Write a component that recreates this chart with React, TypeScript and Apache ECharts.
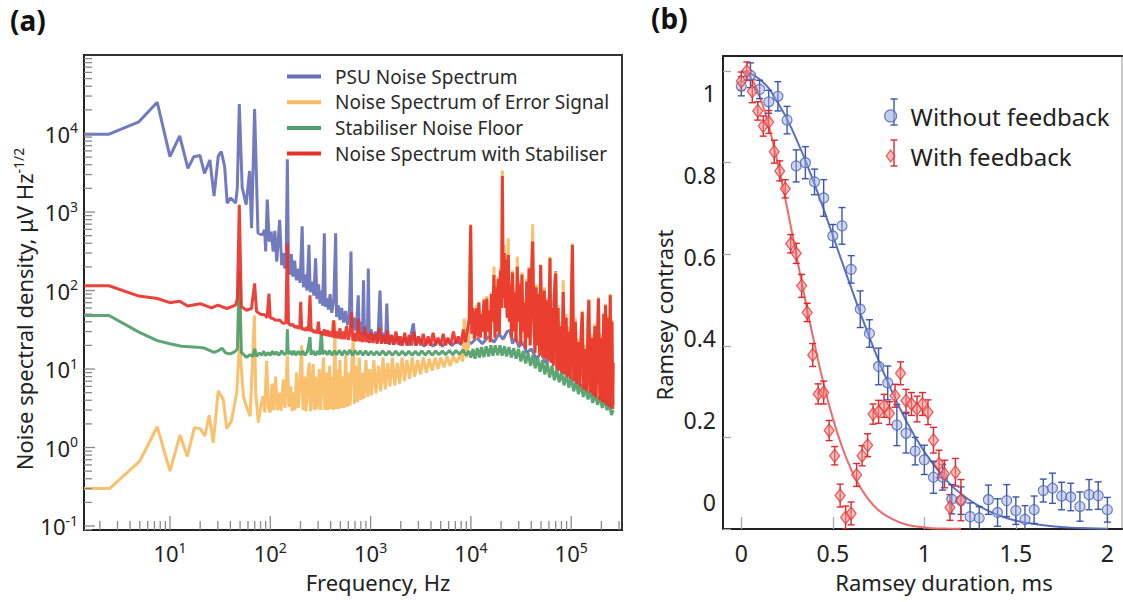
import React, { useEffect, useRef } from 'react';
import * as echarts from 'echarts';

// ---------------- Panel (a): noise spectra [frequency Hz, density µV/√Hz] ----------------
const psuNoise: number[][] = [
  [1.39, 9800], [2.47, 9800], [4.9, 14100], [7.47, 25000], [10, 5070], [12.5, 9300], [15.1, 3590], [17.3, 5070],
  [19.9, 5260], [22.1, 3100], [25, 4600], [27.5, 1590], [30.3, 5150], [32.5, 5880], [35.1, 3780], [37.2, 1300],
  [40.3, 1510], [45.2, 1300], [46.9, 2040], [49.1, 23800], [52.5, 2040], [57.5, 1240], [62.2, 3330], [65.1, 624],
  [69.8, 20500], [75.4, 537], [83.2, 512], [87.9, 590], [90, 314], [93.3, 1440], [97.7, 420], [102, 563], [107, 314],
  [111, 575], [116, 233], [124, 795], [130, 210], [135, 300], [140, 190], [144, 260], [148, 4700], [152, 175],
  [157, 160], [162, 290], [168, 150], [175, 240], [182, 135], [190, 190], [198, 125], [208, 656], [214, 110],
  [222, 160], [232, 100], [243, 382], [250, 95], [262, 130], [272, 86], [283, 257], [292, 78], [303, 120], [313, 68],
  [325, 100], [333, 64], [346, 537], [354, 62], [368, 80], [380, 57], [395, 90], [410, 52], [430, 75], [449, 537],
  [458, 46], [475, 65], [495, 42], [515, 60], [540, 39], [565, 55], [590, 36], [615, 50], [638, 314], [652, 33],
  [680, 45], [705, 31], [730, 42], [754, 87], [770, 29], [800, 40], [830, 27.5], [850, 135], [870, 27], [905, 36],
  [930, 25], [949, 191], [970, 24], [1010, 32], [1060, 23], [1120, 30], [1180, 22], [1241, 100], [1290, 22],
  [1350, 29], [1410, 21], [1450, 68], [1500, 21], [1600, 27], [1700, 20.5], [1850, 26], [2000, 20], [2200, 25],
  [2400, 20], [2670, 38], [2800, 20], [3100, 24], [3400, 19.5], [3800, 23], [4200, 19.5], [4700, 23], [5200, 19.5],
  [5800, 23], [6500, 20], [7200, 23], [8000, 20.5], [9000, 24], [10000, 21], [11500, 25], [13000, 21], [15000, 26],
  [17000, 22], [19000, 28], [21000, 24], [23000, 30], [24500, 31], [26000, 21], [28000, 26], [30000, 19], [33000, 22],
  [36000, 16], [40000, 18], [45000, 13.5], [50000, 16], [56000, 12], [62000, 14], [70000, 177], [72000, 10.5],
  [80000, 12], [90000, 9], [100000, 11], [115000, 7.5], [130000, 9], [145000, 6], [160000, 19], [168000, 5.5],
  [185000, 8], [200000, 4.6], [220000, 7], [240000, 4], [255000, 7.4], [262000, 3.5],
];

const errorSignalNoise: number[][] = [
  [1.39, 0.3], [2.5, 0.3], [5.0, 0.67], [7.47, 1.84], [10, 0.5], [12.6, 1.44], [14.9, 0.77], [17.5, 1.79], [20, 1.74],
  [22.3, 1.4], [24.6, 2.57], [27, 1.15], [30.3, 5.26], [34, 4.1], [36.8, 1.74], [41, 2.17], [46.3, 5.0], [48.8, 16.3],
  [49.5, 110], [50.5, 14], [54, 4.5], [57.5, 3.4], [63, 2.5], [66, 10], [69.4, 48], [71.5, 5], [76, 2.07], [81, 3.5],
  [85, 4.5], [88, 2.8], [92, 12.7], [96, 3.2], [100, 2.8], [104, 6.5], [108, 3.0], [113, 8], [118, 3.0], [124, 5],
  [128, 2.9], [135, 7.4], [140, 3.2], [148, 14.8], [153, 3.3], [160, 6], [165, 2.9], [170, 5.0], [176, 3.0], [183, 9],
  [190, 3.2], [197, 6], [205, 20], [212, 3.0], [220, 8], [226, 2.9], [231, 3.74], [238, 9], [245, 12], [252, 2.9],
  [260, 6], [268, 11.6], [275, 3.0], [283, 8], [292, 3.1], [300, 4.1], [308, 10], [318, 3.0], [328, 7], [340, 14],
  [350, 3.0], [362, 9], [375, 3.0], [390, 11], [402, 3.1], [415, 8], [428, 3.0], [440, 41.5], [452, 3.1], [466, 10],
  [480, 3.1], [495, 13], [510, 3.2], [528, 8], [545, 3.2], [565, 15], [585, 3.3], [605, 9], [625, 3.4], [650, 12],
  [675, 27], [690, 3.6], [715, 11], [740, 3.8], [770, 14], [800, 4.0], [830, 9], [860, 4.2], [900, 13], [940, 4.4],
  [980, 10], [1020, 4.6], [1080, 13], [1130, 4.9], [1200, 11], [1260, 5.2], [1330, 14], [1400, 5.5], [1480, 12],
  [1560, 6], [1650, 14], [1740, 6.2], [1850, 12], [1950, 6.5], [2060, 14], [2180, 7], [2300, 13], [2450, 7.5],
  [2600, 14], [2750, 8], [2950, 13], [3150, 8.5], [3350, 14], [3600, 9], [3850, 13.5], [4100, 9.5], [4400, 14],
  [4700, 10], [5000, 14], [5400, 10.5], [5800, 14.5], [6200, 11], [6700, 14.5], [7200, 12], [7800, 15], [8300, 12.5],
  [8600, 44], [9000, 14], [9500, 20], [9950, 700], [10300, 30], [10800, 50], [11100, 24], [11400, 65], [11700, 26],
  [12000, 72], [12400, 25], [12700, 55], [13100, 30], [13500, 80], [13900, 24], [14400, 85], [14800, 30], [15200, 55],
  [15600, 22], [16000, 95], [16500, 40], [17000, 200], [17400, 25], [17800, 120], [18200, 30], [18700, 150],
  [19200, 28], [19700, 200], [20200, 60], [20600, 3390], [21000, 80], [21500, 380], [22000, 60], [22500, 300],
  [23000, 45], [23600, 464], [24200, 40], [24800, 130], [25400, 25], [26000, 180], [26700, 30], [27400, 100],
  [28200, 22], [29000, 270], [29800, 40], [30600, 130], [31400, 20], [32300, 170], [33200, 30], [34100, 75],
  [35000, 18], [36000, 140], [37000, 25], [38000, 200], [39000, 20], [40200, 160], [41300, 700], [42400, 40],
  [43500, 16], [44700, 120], [46000, 20], [47300, 95], [48500, 15], [49600, 214], [51000, 30], [52500, 14],
  [54000, 110], [55500, 13.5], [57000, 80], [58500, 13], [60000, 45], [61500, 270], [63000, 12], [64700, 65],
  [66400, 11], [68200, 95], [70000, 175], [72000, 10], [74000, 65], [76000, 9.5], [78000, 40], [80500, 9],
  [83300, 135], [86000, 8.5], [89000, 50], [92000, 8], [95000, 35], [98000, 7.5], [101000, 125], [103000, 400],
  [106000, 7], [110000, 45], [114000, 6.5], [118000, 24], [122000, 6], [126000, 32], [129000, 55], [133000, 5.5],
  [138000, 20], [143000, 5.2], [147000, 42], [150000, 78], [155000, 5], [160000, 28], [166000, 4.6], [172000, 38],
  [177000, 4.3], [182000, 22], [187000, 82], [193000, 4], [199000, 28], [205000, 3.8], [211000, 52], [216000, 3.7],
  [220000, 68], [226000, 3.5], [232000, 48], [238000, 3.3], [245000, 90], [250000, 3.2], [255000, 42], [259000, 3.1],
  [262000, 12],
];

const stabiliserFloor: number[][] = [
  [1.39, 48], [2.47, 48], [4.9, 29.5], [7.47, 23], [10, 21], [13, 19.5], [18.5, 19], [22, 18.5], [27.5, 16.3], [30, 17],
  [33, 18.4], [36, 16], [40, 15.6], [44, 16.5], [47, 18], [49.1, 174], [51.5, 16.3], [55, 15], [58, 14.1], [63, 15.2],
  [67, 14.5], [70, 18], [73, 14.5], [78, 16], [82, 15], [86, 16.8], [90, 14.8], [95, 16.2], [100, 15], [105, 16.8],
  [110, 15.2], [115, 16.5], [122, 15], [130, 17], [138, 15.2], [146, 16.5], [148, 32], [151, 15.5], [158, 16.8],
  [165, 15.2], [172, 17], [180, 15], [190, 16.8], [200, 15.2], [210, 17], [222, 15], [235, 16.8], [249, 25.5],
  [255, 15.2], [268, 17], [282, 15], [296, 16.8], [310, 15.2], [324, 30], [332, 15.5], [350, 17], [370, 15.2],
  [390, 17.2], [410, 15], [435, 17], [460, 15.2], [490, 17.3], [520, 15], [550, 17.2], [585, 15.2], [620, 17.5],
  [660, 15], [700, 17.2], [745, 15.2], [790, 17], [840, 15], [890, 17], [950, 15], [1010, 16.8], [1080, 15],
  [1150, 16.8], [1230, 15], [1320, 17], [1420, 15], [1530, 16.8], [1650, 15], [1780, 16.8], [1920, 15], [2070, 16.8],
  [2230, 15], [2400, 16.8], [2600, 15], [2800, 16.8], [3000, 15], [3250, 17], [3500, 15], [3800, 17], [4100, 15],
  [4450, 17], [4800, 15.2], [5200, 17], [5600, 15.2], [6100, 17.2], [6600, 15.2], [7100, 17.2], [7700, 15.4],
  [8300, 17.5], [9000, 15], [9500, 17], [10000, 14], [10500, 18], [11000, 13.5], [11600, 18.5], [12200, 14],
  [12800, 19], [13500, 14.2], [14200, 19.5], [15000, 14.5], [15800, 20], [16600, 14.8], [17500, 20], [18500, 15],
  [19500, 20], [20500, 14.8], [21600, 19.5], [22700, 14.5], [24000, 19], [25300, 14], [26700, 18.5], [28200, 13.5],
  [29800, 18], [31500, 12.5], [33300, 17], [35200, 11.8], [37200, 16], [39300, 11], [41500, 15], [43800, 10.2],
  [46300, 14], [48900, 9.2], [51700, 13], [54600, 8.5], [57700, 12], [61000, 7.8], [64400, 11], [68000, 7.2],
  [71900, 10], [76000, 6.8], [80300, 9.2], [84800, 6.2], [89600, 8.5], [94700, 5.8], [100000, 7.8], [106000, 5.2],
  [112000, 7], [118000, 4.8], [125000, 6.5], [132000, 4.4], [139000, 5.9], [147000, 4.1], [155000, 5.4],
  [164000, 3.7], [173000, 5], [183000, 3.5], [193000, 4.5], [204000, 3.2], [216000, 4.1], [228000, 3],
  [240000, 3.7], [252000, 2.6], [262000, 3.0],
];

const stabilisedNoise: number[][] = [
  [1.39, 115], [2.47, 115], [4.9, 85], [7.47, 79], [10, 70], [12.5, 73], [15, 63.5], [20, 68], [26, 60], [30, 65],
  [37, 59], [45, 65], [47, 79], [49.1, 1240], [51.5, 62], [58, 56], [65, 59], [69.8, 123], [73, 54], [80, 50],
  [88, 49], [93, 45], [97, 91], [100, 45], [106, 44], [112, 42], [118, 41.7], [125, 42], [131, 39], [137, 38],
  [143, 39], [148, 400], [152, 38], [160, 36], [168, 37], [175, 34], [183, 35], [190, 33], [197, 34], [201, 72],
  [206, 32], [215, 33], [222, 31], [232, 34], [240, 30.5], [249, 87], [256, 30], [265, 32], [273, 29], [283, 31],
  [293, 28.5], [302, 40], [310, 28], [322, 30], [333, 27], [345, 32], [358, 26.5], [372, 31], [385, 26], [400, 30],
  [415, 25.5], [427, 41.6], [440, 25], [458, 30], [475, 24.5], [495, 33], [512, 24], [530, 30], [550, 24], [575, 35],
  [600, 23.5], [625, 30], [646, 53], [665, 23], [690, 29], [715, 22.5], [740, 31], [754, 44], [775, 22.5], [805, 29],
  [835, 22], [870, 34], [905, 22], [940, 28], [975, 21.5], [1010, 30], [1060, 21.5], [1110, 28], [1160, 21],
  [1220, 33], [1280, 21], [1340, 27], [1400, 21], [1470, 31], [1540, 20.5], [1620, 27], [1700, 20.5], [1790, 30],
  [1880, 20.5], [1980, 26], [2080, 20], [2190, 29], [2300, 20], [2430, 27], [2560, 20], [2700, 30], [2850, 20],
  [3000, 26], [3170, 20], [3350, 28], [3550, 19.8], [3750, 26], [3950, 19.8], [4200, 29], [4450, 20], [4700, 25],
  [5000, 20], [5300, 28], [5600, 20], [5900, 25], [6300, 20.5], [6700, 30], [7100, 21], [7500, 26], [8000, 21],
  [8400, 32], [8800, 22], [9200, 30], [9640, 44], [9950, 676], [10200, 28], [10500, 60], [10800, 24], [11100, 45],
  [11400, 59], [11700, 26], [12000, 70], [12400, 25], [12700, 50], [13100, 30], [13500, 75], [13900, 24], [14400, 79],
  [14800, 30], [15200, 55], [15600, 22], [16000, 90], [16500, 40], [17000, 158], [17400, 25], [17800, 110],
  [18200, 30], [18700, 140], [19200, 28], [19700, 180], [20200, 60], [20600, 2870], [21000, 80], [21500, 300],
  [22000, 60], [22500, 250], [23000, 45], [23600, 283], [24200, 40], [24800, 120], [25400, 25], [26000, 170],
  [26700, 30], [27400, 95], [28200, 22], [29000, 201], [29800, 40], [30600, 120], [31400, 20], [32300, 160],
  [33200, 30], [34100, 70], [35000, 18], [36000, 130], [37000, 25], [38000, 190], [39000, 20], [40200, 150],
  [41300, 420], [42400, 40], [43500, 16], [44700, 110], [46000, 20], [47300, 90], [48500, 15], [49600, 211],
  [51000, 30], [52500, 14], [54000, 100], [55500, 13.5], [57000, 75], [58500, 13], [60000, 40], [61500, 257],
  [63000, 12], [64700, 60], [66400, 11], [68200, 90], [70000, 165], [72000, 10], [74000, 60], [76000, 9.5],
  [78000, 35], [80500, 9], [83300, 96], [86000, 8.5], [89000, 45], [92000, 8], [95000, 30], [98000, 7.5],
  [101000, 120], [103000, 381], [106000, 7], [110000, 40], [114000, 6.5], [118000, 22], [122000, 6], [126000, 30],
  [129000, 53], [133000, 5.5], [138000, 18], [143000, 5.2], [147000, 40], [150000, 75], [155000, 5], [160000, 25],
  [166000, 4.6], [172000, 35], [177000, 4.3], [182000, 20], [187000, 79], [193000, 4], [199000, 25], [205000, 3.8],
  [211000, 50], [216000, 3.7], [220000, 65], [226000, 3.5], [232000, 45], [238000, 3.3], [245000, 87], [250000, 3.2],
  [255000, 40], [259000, 3.1], [262000, 12],
];

// ---------------- Panel (b): Ramsey contrast [duration ms, contrast, error] ----------------
const withoutFeedback: number[][] = [
  [0, 0.967, 0.021], [0.05, 0.991, 0.027], [0.1, 0.96, 0.02], [0.15, 0.933, 0.025], [0.2, 0.945, 0.032],
  [0.25, 0.893, 0.03], [0.3, 0.793, 0.035], [0.35, 0.8, 0.035], [0.4, 0.758, 0.028], [0.45, 0.723, 0.04],
  [0.5, 0.64, 0.025], [0.55, 0.662, 0.04], [0.6, 0.567, 0.03], [0.65, 0.48, 0.04], [0.7, 0.427, 0.03],
  [0.75, 0.355, 0.04], [0.8, 0.319, 0.037], [0.85, 0.227, 0.045], [0.9, 0.209, 0.043], [0.95, 0.17, 0.03],
  [1.0, 0.151, 0.032], [1.05, 0.113, 0.035], [1.1, 0.113, 0.028], [1.15, 0.065, 0.032], [1.2, 0.062, 0.03],
  [1.25, 0.027, 0.03], [1.3, 0.024, 0.025], [1.35, 0.064, 0.032], [1.4, 0.036, 0.03], [1.45, 0.062, 0.035],
  [1.5, 0.04, 0.03], [1.55, 0.021, 0.03], [1.6, 0.042, 0.03], [1.65, 0.084, 0.025], [1.7, 0.089, 0.033],
  [1.75, 0.072, 0.03], [1.8, 0.07, 0.03], [1.85, 0.049, 0.032], [1.9, 0.075, 0.033], [1.95, 0.073, 0.03],
  [2.0, 0.042, 0.027],
];

const withFeedback: number[][] = [
  [0, 0.978, 0.02], [0.03, 1.0, 0.02], [0.06, 0.956, 0.025], [0.09, 0.913, 0.02], [0.12, 0.88, 0.022],
  [0.15, 0.889, 0.025], [0.18, 0.824, 0.025], [0.21, 0.782, 0.022], [0.24, 0.743, 0.02], [0.27, 0.623, 0.02],
  [0.3, 0.602, 0.022], [0.33, 0.531, 0.025], [0.36, 0.473, 0.02], [0.39, 0.38, 0.025], [0.42, 0.295, 0.022],
  [0.45, 0.298, 0.025], [0.48, 0.215, 0.022], [0.51, 0.16, 0.02], [0.54, 0.073, 0.025], [0.57, 0.025, 0.025],
  [0.6, 0.034, 0.025], [0.63, 0.118, 0.025], [0.66, 0.16, 0.022], [0.69, 0.183, 0.025], [0.72, 0.251, 0.022],
  [0.75, 0.256, 0.025], [0.78, 0.269, 0.025], [0.81, 0.253, 0.025], [0.84, 0.291, 0.025], [0.87, 0.34, 0.025],
  [0.9, 0.28, 0.025], [0.93, 0.273, 0.025], [0.96, 0.262, 0.028], [0.99, 0.273, 0.025], [1.02, 0.255, 0.027],
  [1.05, 0.194, 0.028], [1.08, 0.142, 0.03], [1.11, 0.12, 0.03], [1.14, 0.047, 0.028], [1.17, 0.124, 0.03],
  [1.2, 0.063, 0.045],
];

const fitWithout: number[][] = [
  [0, 1], [0.1, 0.982], [0.2, 0.931], [0.3, 0.852], [0.4, 0.753], [0.5, 0.641], [0.6, 0.527], [0.7, 0.419],
  [0.8, 0.321], [0.9, 0.237], [1.0, 0.169], [1.1, 0.116], [1.2, 0.077], [1.3, 0.05], [1.4, 0.031], [1.5, 0.018],
  [1.6, 0.011], [1.7, 0.006], [1.8, 0.003], [1.9, 0.0016], [2.0, 0.0008],
];

const fitWith: number[][] = [
  [0, 1], [0.05, 0.986], [0.1, 0.945], [0.15, 0.88], [0.2, 0.797], [0.25, 0.702], [0.3, 0.6], [0.35, 0.499],
  [0.4, 0.404], [0.45, 0.317], [0.5, 0.242], [0.55, 0.18], [0.6, 0.13], [0.65, 0.091], [0.7, 0.062], [0.75, 0.041],
  [0.8, 0.027], [0.9, 0.01], [1.0, 0.0035], [1.1, 0.001], [1.2, 0.0003],
];

const contrastTickValues = [0, 0.2, 0.4, 0.6, 0.8, 1];
const durationTickValues = [0, 0.5, 1, 1.5, 2];

// axis ranges
const A_XMIN = 1.39, A_XMAX = 321000, A_YMIN = 0.089, A_YMAX = 100000;
const B_XMIN = -0.1, B_XMAX = 2.08, B_YMIN = 0, B_YMAX = 1.033;
const B_LBL_MIN = -0.066, B_LBL_MAX = 1.0905;

const FONT = 'Noto Sans';
const C_BLUE = '#6670b8', C_ORANGE = '#f9bb61', C_GREEN = '#4f9d69', C_RED = '#e8332b';

function logTickList(min: number, max: number) {
  const out: number[][] = [];
  for (let d = -2; d <= 6; d++) {
    for (let k = 1; k <= 9; k++) {
      const v = k * Math.pow(10, d);
      if (v > min * 1.001 && v < max * 0.999) out.push([v, k === 1 ? 1 : 0]);
    }
  }
  return out;
}

export default function App() {
  const ref = useRef<HTMLDivElement>(null);
  useEffect(() => {
    if (!ref.current) return;
    const chart = echarts.init(ref.current, undefined, { renderer: 'svg' });

    const xTicksA = logTickList(A_XMIN, A_XMAX).map(([v, major]) => [v, A_YMIN, major]);
    const yTicksA = logTickList(A_YMIN, A_YMAX).map(([v, major]) => [A_XMIN, v, major]);

    const powLabel = (v: number, maxExp: number) => {
      const l = Math.log10(v);
      const n = Math.round(l);
      if (Math.abs(l - n) > 1e-3 || n > maxExp) return '';
      return '{b|10}{s|' + n + '}';
    };
    const richPow = {
      b: { fontSize: 22, fontFamily: FONT, color: '#222' },
      s: { fontSize: 14, fontFamily: FONT, color: '#222', padding: [0, 0, 12, 0] },
    };

    const errRender = (color: string) => (params: any, api: any) => {
      const x = api.value(0), y = api.value(1), e = api.value(2);
      const t = api.coord([x, y + e]);
      const b = api.coord([x, y - e]);
      const hw = 3.5;
      const st = { stroke: color, lineWidth: 1.4 };
      return {
        type: 'group',
        children: [
          { type: 'line', shape: { x1: t[0], y1: t[1], x2: b[0], y2: b[1] }, style: st },
          { type: 'line', shape: { x1: t[0] - hw, y1: t[1], x2: t[0] + hw, y2: t[1] }, style: st },
          { type: 'line', shape: { x1: b[0] - hw, y1: b[1], x2: b[0] + hw, y2: b[1] }, style: st },
        ],
      };
    };

    const specLine = (name: string, data: number[][], color: string, z: number) => ({
      name, type: 'line', data, xAxisIndex: 0, yAxisIndex: 0, showSymbol: false, symbol: 'none',
      lineStyle: { color, width: 3, opacity: 0.92 }, itemStyle: { color }, z, silent: true,
    });

    const legErr = (cx: number, cy: number, color: string) => [
      { type: 'line', shape: { x1: cx, y1: cy - 13, x2: cx, y2: cy + 13 }, style: { stroke: color, lineWidth: 1.4 } },
      { type: 'line', shape: { x1: cx - 3.5, y1: cy - 13, x2: cx + 3.5, y2: cy - 13 }, style: { stroke: color, lineWidth: 1.4 } },
      { type: 'line', shape: { x1: cx - 3.5, y1: cy + 13, x2: cx + 3.5, y2: cy + 13 }, style: { stroke: color, lineWidth: 1.4 } },
    ];

    chart.setOption({
      animation: false,
      backgroundColor: '#ffffff',
      textStyle: { fontFamily: FONT },
      grid: [
        { left: 84, top: 55, width: 538, height: 475, show: true, borderColor: '#333', borderWidth: 2, outerBoundsMode: 'none', containLabel: false },
        { left: 723, top: 56, width: 399, height: 473, show: true, borderColor: '#c8c8c8', borderWidth: 2, outerBoundsMode: 'none', containLabel: false },
      ],
      xAxis: [
        {
          type: 'log', logBase: 10, gridIndex: 0, min: A_XMIN, max: A_XMAX, position: 'bottom',
          axisLine: { show: true, lineStyle: { color: '#222', width: 2 } },
          axisTick: { show: false }, splitLine: { show: false }, minorTick: { show: false },
          axisLabel: { margin: 10, formatter: (v: number) => powLabel(v, 9), rich: richPow },
        },
        {
          type: 'value', gridIndex: 1, min: B_XMIN, max: B_XMAX, position: 'bottom',
          axisLine: { show: true, onZero: false, lineStyle: { color: '#222', width: 2 } },
          axisTick: { show: true, inside: true, length: 12, customValues: durationTickValues, lineStyle: { color: '#aaa', width: 1.3 } },
          splitLine: { show: false },
          axisLabel: {
            margin: 12, fontSize: 23, color: '#222', fontFamily: FONT, customValues: durationTickValues,
            formatter: (v: number) => {
              const r = Math.round(v * 2) / 2;
              return Math.abs(v - r) > 1e-6 ? '' : String(+r.toFixed(1));
            },
          },
        },
        {
          type: 'value', gridIndex: 1, min: B_XMIN, max: B_XMAX, position: 'top',
          axisLine: { show: true, onZero: false, lineStyle: { color: '#222', width: 2 } },
          axisTick: { show: false }, axisLabel: { show: false }, splitLine: { show: false },
        },
      ],
      yAxis: [
        {
          type: 'log', logBase: 10, gridIndex: 0, min: A_YMIN, max: A_YMAX, position: 'left',
          axisLine: { show: true, lineStyle: { color: '#222', width: 2 } },
          axisTick: { show: false }, splitLine: { show: false }, minorTick: { show: false },
          axisLabel: { margin: 6, formatter: (v: number) => powLabel(v, 4), rich: richPow },
        },
        {
          type: 'value', gridIndex: 1, min: B_YMIN, max: B_YMAX, position: 'left',
          axisLine: { show: true, onZero: false, lineStyle: { color: '#222', width: 2 } },
          axisTick: { show: true, inside: true, length: 8, customValues: contrastTickValues, lineStyle: { color: '#aaa', width: 1.3 } },
          axisLabel: { show: false }, splitLine: { show: false },
        },
        {
          type: 'value', gridIndex: 1, min: B_LBL_MIN, max: B_LBL_MAX, position: 'left',
          axisLine: { show: false }, axisTick: { show: false }, splitLine: { show: false },
          axisLabel: {
            margin: 7, fontSize: 23, color: '#222', fontFamily: FONT, customValues: contrastTickValues,
            formatter: (v: number) => {
              const r = Math.round(v * 5) / 5;
              return Math.abs(v - r) > 1e-6 ? '' : String(+r.toFixed(1));
            },
          },
        },
      ],
      legend: [
        {
          data: ['PSU Noise Spectrum', 'Noise Spectrum of Error Signal', 'Stabiliser Noise Floor', 'Noise Spectrum with Stabiliser'],
          orient: 'vertical', left: 282, top: 62, itemWidth: 34, itemHeight: 4, itemGap: 6.7, icon: 'rect',
          textStyle: { fontSize: 19, color: '#2a2a2a', fontFamily: FONT, padding: [0, 0, 0, 9] },
          selectedMode: false,
        },
        {
          data: [
            { name: 'Without feedback', icon: 'circle', itemStyle: { color: 'rgba(160,172,222,0.75)', borderColor: '#4a64b8', borderWidth: 1.2 } },
            { name: 'With feedback', icon: 'path://M5,0 L10,7 L5,14 L0,7 Z', itemStyle: { color: 'rgba(242,150,150,0.8)', borderColor: '#e8302e', borderWidth: 1.2 } },
          ],
          orient: 'vertical', left: 879, top: 99, itemWidth: 30, itemHeight: 12, itemGap: 16,
          textStyle: { fontSize: 24, color: '#222', fontFamily: FONT },
          selectedMode: false,
        },
      ],
      graphic: [
        { type: 'text', left: 10, top: 6, style: { text: '(a)', font: 'bold 28px "Noto Sans"', fill: '#111' } },
        { type: 'text', left: 651, top: 4, style: { text: '(b)', font: 'bold 28px "Noto Sans"', fill: '#111' } },
        {
          type: 'text', x: 24, y: 309, rotation: Math.PI / 2,
          style: {
            text: 'Noise spectral density, μV Hz{s|-1/2}', fill: '#222', font: '22px "Noto Sans"',
            align: 'center', verticalAlign: 'middle',
            rich: { s: { fontSize: 14, fontFamily: FONT, fill: '#222', padding: [0, 0, 12, 0] } },
          },
        },
        { type: 'text', x: 378, y: 582, style: { text: 'Frequency, Hz', fill: '#222', font: '22px "Noto Sans"', align: 'center', verticalAlign: 'middle' } },
        { type: 'text', x: 664, y: 315, rotation: Math.PI / 2, style: { text: 'Ramsey contrast', fill: '#222', font: '22px "Noto Sans"', align: 'center', verticalAlign: 'middle' } },
        { type: 'text', x: 944, y: 582, style: { text: 'Ramsey duration, ms', fill: '#222', font: '22px "Noto Sans"', align: 'center', verticalAlign: 'middle' } },
        ...legErr(894, 112, '#3b57ad'),
        ...legErr(894, 153, '#e3262b'),
      ],
      series: [
        specLine('PSU Noise Spectrum', psuNoise, C_BLUE, 2),
        specLine('Noise Spectrum of Error Signal', errorSignalNoise, C_ORANGE, 3),
        specLine('Stabiliser Noise Floor', stabiliserFloor, C_GREEN, 4),
        specLine('Noise Spectrum with Stabiliser', stabilisedNoise, C_RED, 5),
        {
          name: 'xticksA', type: 'custom', xAxisIndex: 0, yAxisIndex: 0, data: xTicksA, silent: true, z: 6,
          encode: { x: 0, y: 1 },
          renderItem: (params: any, api: any) => {
            const p = api.coord([api.value(0), api.value(1)]);
            const len = api.value(2) ? 14 : 9;
            return { type: 'line', shape: { x1: p[0], y1: p[1], x2: p[0], y2: p[1] - len }, style: { stroke: '#8a8a8a', lineWidth: 1.3 } };
          },
        },
        {
          name: 'yticksA', type: 'custom', xAxisIndex: 0, yAxisIndex: 0, data: yTicksA, silent: true, z: 6,
          encode: { x: 0, y: 1 },
          renderItem: (params: any, api: any) => {
            const p = api.coord([api.value(0), api.value(1)]);
            const len = api.value(2) ? 11 : 8;
            return { type: 'line', shape: { x1: p[0], y1: p[1], x2: p[0] + len, y2: p[1] }, style: { stroke: '#8a8a8a', lineWidth: 1.3 } };
          },
        },
        {
          name: 'fitWithout', type: 'line', xAxisIndex: 1, yAxisIndex: 1, data: fitWithout, smooth: true,
          showSymbol: false, symbol: 'none', lineStyle: { color: '#5b71bd', width: 2 }, z: 2, silent: true,
        },
        {
          name: 'fitWith', type: 'line', xAxisIndex: 1, yAxisIndex: 1, data: fitWith, smooth: true,
          showSymbol: false, symbol: 'none', lineStyle: { color: '#f06868', width: 2 }, z: 2, silent: true,
        },
        {
          name: 'errWithout', type: 'custom', xAxisIndex: 1, yAxisIndex: 1, data: withoutFeedback, clip: true,
          encode: { x: 0, y: 1 }, renderItem: errRender('#3b57ad'), z: 3, silent: true,
        },
        {
          name: 'errWith', type: 'custom', xAxisIndex: 1, yAxisIndex: 1, data: withFeedback, clip: true,
          encode: { x: 0, y: 1 }, renderItem: errRender('#e3262b'), z: 3, silent: true,
        },
        {
          name: 'Without feedback', type: 'scatter', xAxisIndex: 1, yAxisIndex: 1,
          data: withoutFeedback.map((d) => [d[0], d[1]]), symbol: 'circle', symbolSize: 10,
          itemStyle: { color: 'rgba(160,172,222,0.6)', borderColor: '#4a64b8', borderWidth: 1.2 }, z: 4, silent: true,
        },
        {
          name: 'With feedback', type: 'scatter', xAxisIndex: 1, yAxisIndex: 1,
          data: withFeedback.map((d) => [d[0], d[1]]), symbol: 'diamond', symbolSize: [10, 13],
          itemStyle: { color: 'rgba(242,140,140,0.7)', borderColor: '#e8302e', borderWidth: 1.2 }, z: 4, silent: true,
        },
      ],
    });
    return () => chart.dispose();
  }, []);
  return <div ref={ref} style={{ position: 'fixed', left: 0, top: 0, width: 1123, height: 602, background: '#fff' }} />;
}
